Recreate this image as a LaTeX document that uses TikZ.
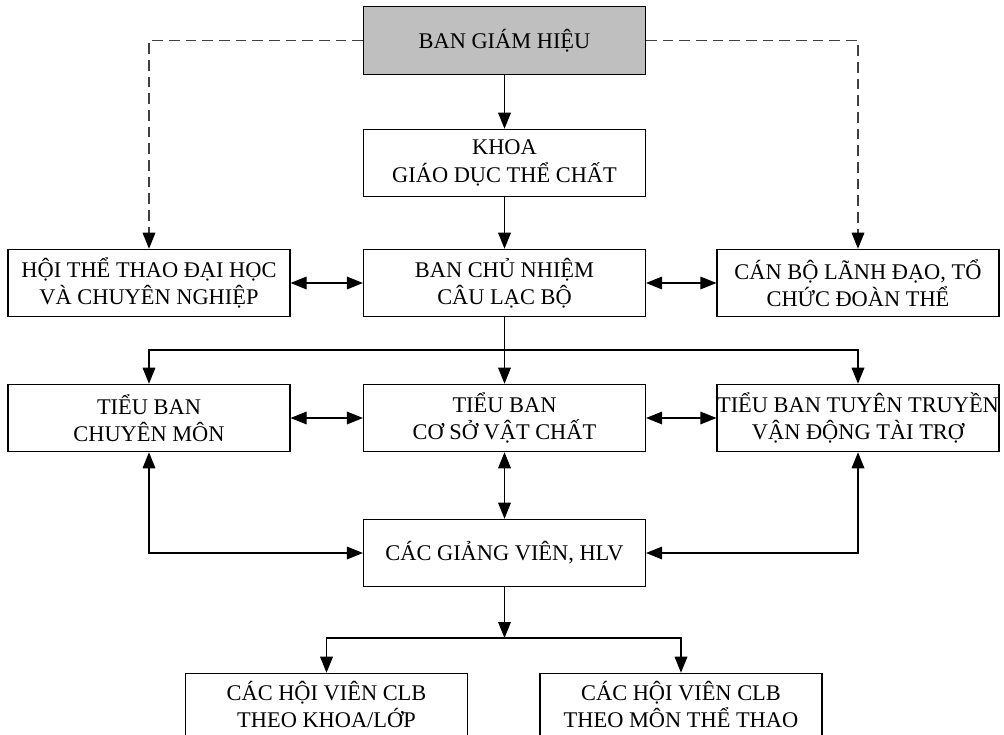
\documentclass[tikz,border=0pt]{standalone}
\usepackage{fontspec}
\setmainfont{Liberation Serif}
\usetikzlibrary{arrows.meta}
\definecolor{boardgray}{rgb}{0.75, 0.75, 0.75}
\definecolor{dashgray}{rgb}{0.25, 0.25, 0.25}

\begin{document}
\begin{tikzpicture}[x=0.75pt, y=-0.75pt,
    unit/.style={draw, line width=0.9pt, fill=white, minimum width=211.5pt,
        minimum height=50.5pt, inner sep=0pt, align=center,
        font=\fontsize{16.8}{20.5}\selectfont},
    link/.style={line width=0.9pt, -{Triangle[length=12pt, width=9.5pt]}},
    twoway/.style={line width=0.9pt,
        {Triangle[length=12pt, width=9.5pt]}-{Triangle[length=12pt, width=9.5pt]}},
    advise/.style={line width=0.8pt, dashgray, dash pattern=on 8pt off 4.5pt,
        -{Triangle[length=12pt, width=9.5pt, color=black]}}]
        \def \leftx {149};
        \def \midx {504.5};
        \def \rightx {858};

        % page frame of the picture
        \useasboundingbox (0,0) rectangle (1004,735);
        \clip (0,0) rectangle (1004,735);

        % board and faculty
        \node[unit, fill=boardgray] (bgh) at (\midx, 40.5) {BAN GIÁM HIỆU};
        \node[unit] (khoa) at (\midx, 163) {KHOA\\GIÁO DỤC THỂ CHẤT};

        % club board with its partners
        \node[unit] (hoi) at (\leftx, 283) {HỘI THỂ THAO ĐẠI HỌC\\VÀ CHUYÊN NGHIỆP};
        \node[unit] (bcn) at (\midx, 283) {BAN CHỦ NHIỆM\\CÂU LẠC BỘ};
        \node[unit] (canbo) at (\rightx, 283) {CÁN BỘ LÃNH ĐẠO, TỔ\\CHỨC ĐOÀN THỂ};

        % sub-committees
        \node[unit] (tbcm) at (\leftx, 418) {TIỂU BAN\\CHUYÊN MÔN};
        \node[unit] (tbvc) at (\midx, 418) {TIỂU BAN\\CƠ SỞ VẬT CHẤT};
        \node[unit] (tbtt) at (\rightx, 418) {TIỂU BAN TUYÊN TRUYỀN\\VẬN ĐỘNG TÀI TRỢ};

        % coaches and members
        \node[unit] (gv) at (\midx, 553) {CÁC GIẢNG VIÊN, HLV};
        \node[unit, text depth=4pt] (hvkhoa) at (326.5, 707) {CÁC HỘI VIÊN CLB\\THEO KHOA/LỚP};
        \node[unit, text depth=4pt] (hvmon) at (681, 707) {CÁC HỘI VIÊN CLB\\THEO MÔN THỂ THAO};

        \coordinate (split) at (\midx, 350);
        \coordinate (fork) at (\midx, 638);

        % main line of command
        \draw[link] (bgh) -- (khoa);
        \draw[link] (khoa) -- (bcn);
        \draw[advise] (bgh.west) -| (hoi.north);
        \draw[advise] (bgh.east) -| (canbo.north);

        % two-way links between neighbours
        \foreach \a/\b in {hoi/bcn, bcn/canbo, tbcm/tbvc, tbvc/tbtt} {
            \draw[twoway] (\a) -- (\b);
        }

        % club board to the sub-committees
        \draw[link] (bcn) -- (tbvc);
        \draw[link] (split) -| (tbcm.north);
        \draw[link] (split) -| (tbtt.north);

        % sub-committees and coaches
        \draw[twoway] (tbvc) -- (gv);
        \draw[twoway] (tbcm.south) |- (gv.west);
        \draw[twoway] (tbtt.south) |- (gv.east);

        % coaches to the members
        \draw[link] (gv) -- (fork);
        \draw[link] (fork) -| (hvkhoa.north);
        \draw[link] (fork) -| (hvmon.north);
    \end{tikzpicture}
\end{document}
